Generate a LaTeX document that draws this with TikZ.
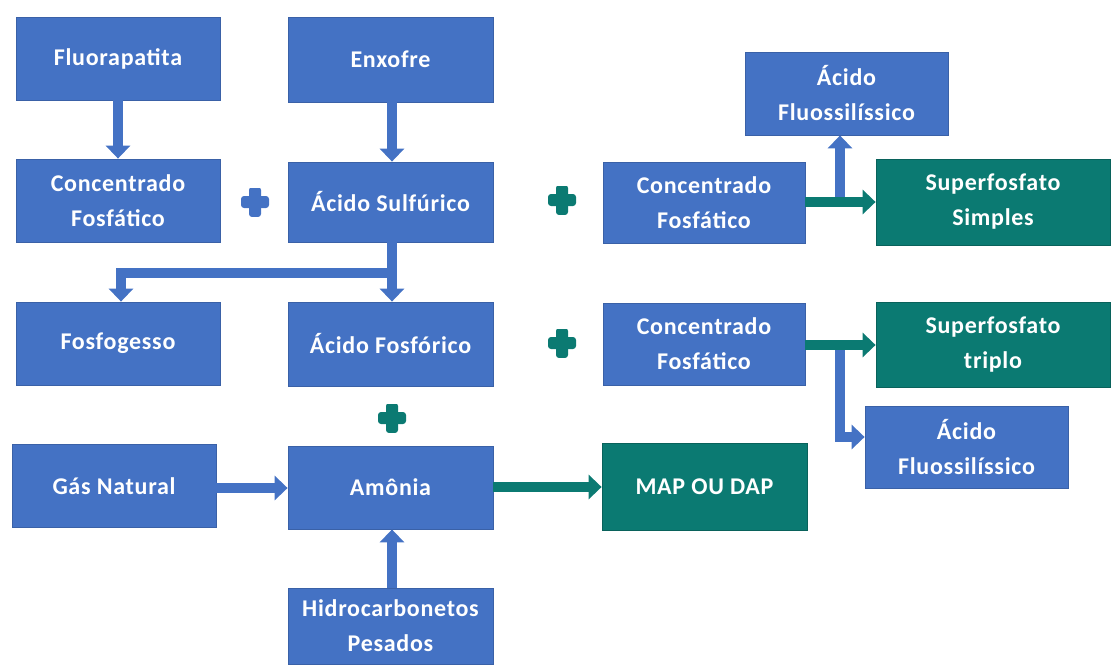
\documentclass[tikz,border=0pt]{standalone}
\usepackage{fontspec}
\setmainfont{Carlito}[LetterSpace=3]
\usetikzlibrary{arrows.meta}
\definecolor{bx}{HTML}{4472C4}
\definecolor{tl}{HTML}{0B7A72}
\begin{document}
\begin{tikzpicture}[x=1pt,y=-1pt,
  box/.style={fill=bx, draw=bx!85!black, line width=0.8pt, text=white,
    font=\bfseries\fontsize{24}{35}\selectfont, align=center, inner sep=0pt,
    minimum width=204pt, minimum height=83pt},
  tbox/.style={box, fill=tl, draw=tl!80!black},
  arrb/.style={draw=bx, line width=10pt, -{Triangle[width=24pt,length=13pt]}},
  arrt/.style={arrb, draw=tl},
  plussign/.style={minimum size=28pt, inner sep=0pt,
    path picture={
      \fill[#1, rounded corners=3pt]
        ([xshift=-14pt,yshift=-6pt]path picture bounding box.center) rectangle
        ([xshift=14pt,yshift=6pt]path picture bounding box.center);
      \fill[#1, rounded corners=3pt]
        ([xshift=-6pt,yshift=-15pt]path picture bounding box.center) rectangle
        ([xshift=6pt,yshift=15pt]path picture bounding box.center);}}
]
\useasboundingbox (0,0) rectangle (1114,666);

% left column
\node[box] (fluor) at (118,58.5) {Fluorapatita};
\node[box] (conc1) at (118,200.5) {Concentrado\\Fosfático};
\node[box] (fosfog) at (118,343.5) {Fosfogesso};
\node[box] (gas) at (114,486) {Gás Natural};

% middle column
\node[box, minimum width=205pt, minimum height=85pt] (enx) at (390.5,59.5) {Enxofre};
\node[box, minimum width=205pt, minimum height=80pt] (sulf) at (390.5,202) {Ácido Sulfúrico};
\node[box, minimum width=205pt, minimum height=84pt] (fosf) at (390.5,344) {Ácido Fosfórico};
\node[box, minimum width=205pt] (amon) at (390.5,487.5) {Amônia};
\node[box, minimum width=205pt, minimum height=76pt] (hidro) at (390.5,626) {Hidrocarbonetos\\Pesados};

% right part
\node[box, minimum width=203pt] (af1) at (846.5,93.5) {Ácido\\Fluossilíssico};
\node[box, minimum width=202pt, minimum height=81pt] (conc2) at (704,202.5) {Concentrado\\Fosfático};
\node[tbox, minimum width=234pt, minimum height=86pt] (sup1) at (993,202) {Superfosfato\\Simples};
\node[box, minimum width=202pt, minimum height=82pt] (conc3) at (704,344) {Concentrado\\Fosfático};
\node[tbox, minimum width=234pt, minimum height=85pt] (sup3) at (993,344.5) {Superfosfato\\triplo};
\node[box, minimum width=203pt, minimum height=82pt] (af2) at (966.5,447) {Ácido\\Fluossilíssico};
\node[tbox, minimum width=205pt, minimum height=87pt] (map) at (704.5,486.5) {MAP OU DAP};

% plus signs
\node[plussign=bx] (p1) at (255,202) {};
\node[plussign=tl] (p2) at (562,200) {};
\node[plussign=tl] (p3) at (562,343) {};
\node[plussign=tl] (p4) at (392,418) {};

% arrows
\draw[arrb] (fluor.south) -- (conc1.north);
\draw[arrb] ([xshift=1.5pt]enx.south) -- ([xshift=1.5pt]sulf.north);
\draw[arrb] ([xshift=1.5pt]sulf.south) -- ([xshift=1.5pt]fosf.north);
\coordinate (jb) at (387,273);
\draw[arrb] (jb) -| ([xshift=3pt]fosfog.north);
\draw[arrb] (gas.east |- 0,488) -- (amon.west |- 0,488);
\draw[arrb] ([xshift=1.5pt]hidro.north) -- ([xshift=1.5pt]amon.south);
\draw[arrt] (amon.east |- 0,487) -- (map.west |- 0,487);

\draw[arrt] (conc2.east |- 0,202) -- (sup1.west |- 0,202);
\coordinate (j1) at (840,197);
\draw[arrb] (j1) -- (j1 |- af1.south);

\draw[arrt] (conc3.east |- 0,345) -- (sup3.west |- 0,345);
\coordinate (j2) at (840,350);
\draw[arrb] (j2) |- ([yshift=10pt]af2.west);
\end{tikzpicture}
\end{document}
